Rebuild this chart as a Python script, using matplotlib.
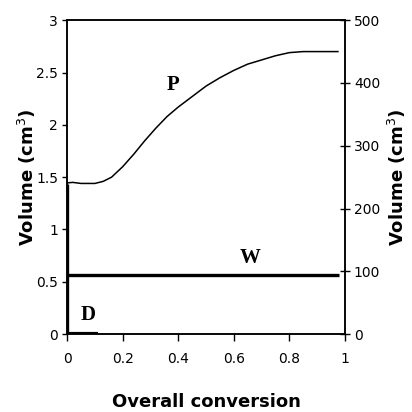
import matplotlib.pyplot as plt

# P curve (left axis, cm3) against overall conversion
conv_p = [0.0, 0.02, 0.05, 0.10, 0.13, 0.16, 0.20, 0.24, 0.28, 0.32, 0.36, 0.40,
          0.45, 0.50, 0.55, 0.60, 0.65, 0.70, 0.75, 0.80, 0.85, 0.975]
vol_p = [1.445, 1.45, 1.44, 1.44, 1.46, 1.50, 1.60, 1.72, 1.85, 1.97, 2.08, 2.17,
         2.27, 2.37, 2.45, 2.52, 2.58, 2.62, 2.66, 2.69, 2.70, 2.70]

# W line (right axis, cm3)
conv_w = [0.0, 0.98]
vol_w = [94, 94]

# D line (left axis) and vertical step at zero conversion
conv_d = [0.0, 0.11]
vol_d = [0.0, 0.0]
conv_step = [0.0, 0.0]
vol_step = [0.0, 1.43]

xticks = [0, 0.2, 0.4, 0.6, 0.8, 1]
xticklabels = ['0', '0.2', '0.4', '0.6', '0.8', '1']
yticks_left = [0, 0.5, 1, 1.5, 2, 2.5, 3]
yticklabels_left = ['0', '0.5', '1', '1.5', '2', '2.5', '3']
yticks_right = [0, 100, 200, 300, 400, 500]

plt.rcParams['font.family'] = ['DejaVu Sans']

fig = plt.figure(figsize=(4.12, 4.12), dpi=100)
ax = fig.add_axes([0.163, 0.189, 0.674, 0.762])
ax2 = ax.twinx()

ax.plot(conv_p, vol_p, color='black', linewidth=1.1)
ax.plot(conv_step, vol_step, color='black', linewidth=2.4, solid_capstyle='butt')
ax.plot(conv_d, vol_d, color='black', linewidth=3, solid_capstyle='butt')
ax2.plot(conv_w, vol_w, color='black', linewidth=2.4, solid_capstyle='butt')

ax.set_xlim(0, 1)
ax.set_ylim(0, 3)
ax2.set_ylim(0, 500)

ax.set_xticks(xticks)
ax.set_xticklabels(xticklabels, fontsize=10)
ax.set_yticks(yticks_left)
ax.set_yticklabels(yticklabels_left, fontsize=10)
ax2.set_yticks(yticks_right)
ax2.set_yticklabels([str(v) for v in yticks_right], fontsize=10)

ax.tick_params(axis='x', direction='out', length=5, width=1, pad=8)
ax.tick_params(axis='y', direction='out', length=3.5, width=1, pad=3)
ax2.tick_params(axis='y', direction='inout', length=7, width=1, pad=3)

for a in (ax, ax2):
    for s in a.spines.values():
        s.set_linewidth(1.1)

ax.set_ylabel('Volume (cm$^3$)', fontsize=13, fontweight='bold', labelpad=-1)
ax2.set_ylabel('Volume (cm$^3$)', fontsize=13, fontweight='bold', labelpad=4)
ax.set_xlabel('Overall conversion', fontsize=13, fontweight='bold', labelpad=19)

ax.text(0.38, 2.38, 'P', fontsize=15, fontweight='bold', family='Liberation Serif', ha='center', va='center')
ax2.text(0.66, 121, 'W', fontsize=15, fontweight='bold', family='Liberation Serif', ha='center', va='center')
ax.text(0.075, 0.18, 'D', fontsize=15, fontweight='bold', family='Liberation Serif', ha='center', va='center')

fig.savefig('out.png', dpi=100)
